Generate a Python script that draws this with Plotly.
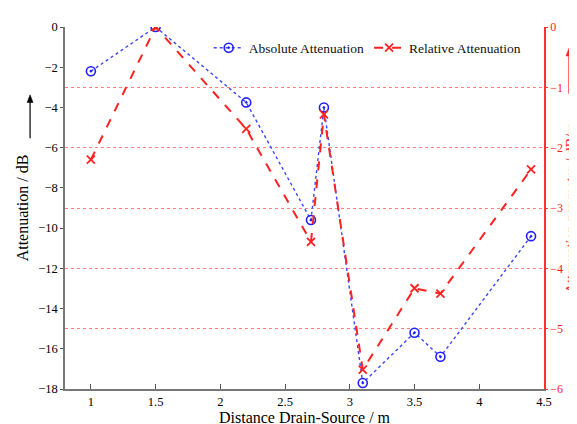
import plotly.graph_objects as go

dist = [1.0, 1.5, 2.2, 2.7, 2.8, 3.1, 3.5, 3.7, 4.4]
abs_att = [-2.2, 0.0, -3.75, -9.6, -4.0, -17.7, -15.2, -16.4, -10.4]
rel_att = [-2.2, 0.0, -1.69, -3.56, -1.45, -5.68, -4.33, -4.42, -2.36]
x_ticks = [1, 1.5, 2, 2.5, 3, 3.5, 4, 4.5]
y1_ticks = list(range(-18, 1, 2))
y2_ticks = list(range(-6, 1, 1))

FONT = "Liberation Serif"

fig = go.Figure()
fig.add_trace(go.Scatter(
    x=dist, y=abs_att, name="Absolute Attenuation", mode="lines+markers",
    line=dict(color="#3a46ff", width=1.4, dash="dot"),
    marker=dict(symbol="circle-open-dot", size=9, color="#2020ff", line=dict(width=1.6)),
    yaxis="y"))
fig.add_trace(go.Scatter(
    x=dist, y=rel_att, name="Relative Attenuation", mode="lines+markers",
    line=dict(color="#ff2020", width=2, dash="dash"),
    marker=dict(symbol="x-thin-open", size=8, color="#ff2020", line=dict(width=1.8)),
    yaxis="y2"))

L, R, T, B = 57, 40, 13, 37
W, H = 577, 424
pw, ph = W - L - R, H - T - B


def px(xp):
    return (xp - L) / pw


def py(yp):
    return (H - B - yp) / ph


shapes = []
for xc, y_head, y_tail, col in [(22, 83, 128, "black"), (562, 35, 82, "#ff2020")]:
    shapes.append(dict(type="line", xref="paper", yref="paper",
                       x0=px(xc), x1=px(xc), y0=py(y_tail), y1=py(y_head + 6),
                       line=dict(color=col, width=1.2), layer="above"))
    shapes.append(dict(type="path", xref="paper", yref="paper",
                       path=f"M {px(xc-3)} {py(y_head+8)} L {px(xc)} {py(y_head)} L {px(xc+3)} {py(y_head+8)} Z",
                       fillcolor=col, line=dict(color=col, width=0.5), layer="above"))

fig.update_layout(
    width=W, height=H,
    margin=dict(l=L, r=R, t=T, b=B),
    paper_bgcolor="white", plot_bgcolor="white",
    font=dict(family=FONT, size=12, color="black"),
    showlegend=True,
    legend=dict(orientation="h", x=0.3, y=0.985, xanchor="left", yanchor="top",
                bgcolor="rgba(0,0,0,0)", font=dict(family=FONT, size=13.5, color="#111"),
                itemwidth=30, tracegroupgap=0),
    xaxis=dict(range=[0.8, 4.5], tickvals=x_ticks, ticktext=[str(t) for t in x_ticks],
               showgrid=False, zeroline=False, showline=True, linecolor="#777", linewidth=1.5,
               ticks="inside", ticklen=5, tickcolor="#555",
               title=dict(text="Distance Drain-Source / m", font=dict(size=16), standoff=0),
               tickfont=dict(size=12.5)),
    yaxis=dict(range=[-18, 0], tickvals=y1_ticks, showgrid=False, zeroline=False,
               showline=True, linecolor="#777", linewidth=1.5, ticks="outside", ticklen=3,
               tickcolor="#555", tickfont=dict(size=12.5),
               title=dict(text="Attenuation / dB", font=dict(size=16), standoff=6)),
    yaxis2=dict(range=[-6, 0], tickvals=y2_ticks, overlaying="y", side="right",
                showgrid=True, gridcolor="#ff8080", griddash="dot", gridwidth=1,
                zeroline=False, showline=True, linecolor="#ff3030", linewidth=1.5,
                ticks="outside", ticklen=2, tickcolor="#ff3030",
                tickfont=dict(size=12, color="#ff2020"),
                title=dict(text="Attenuation per meter / dB/m",
                           font=dict(size=14.5, color="#ff2020"), standoff=0)),
    shapes=shapes,
)

fig.write_html("out.html")
